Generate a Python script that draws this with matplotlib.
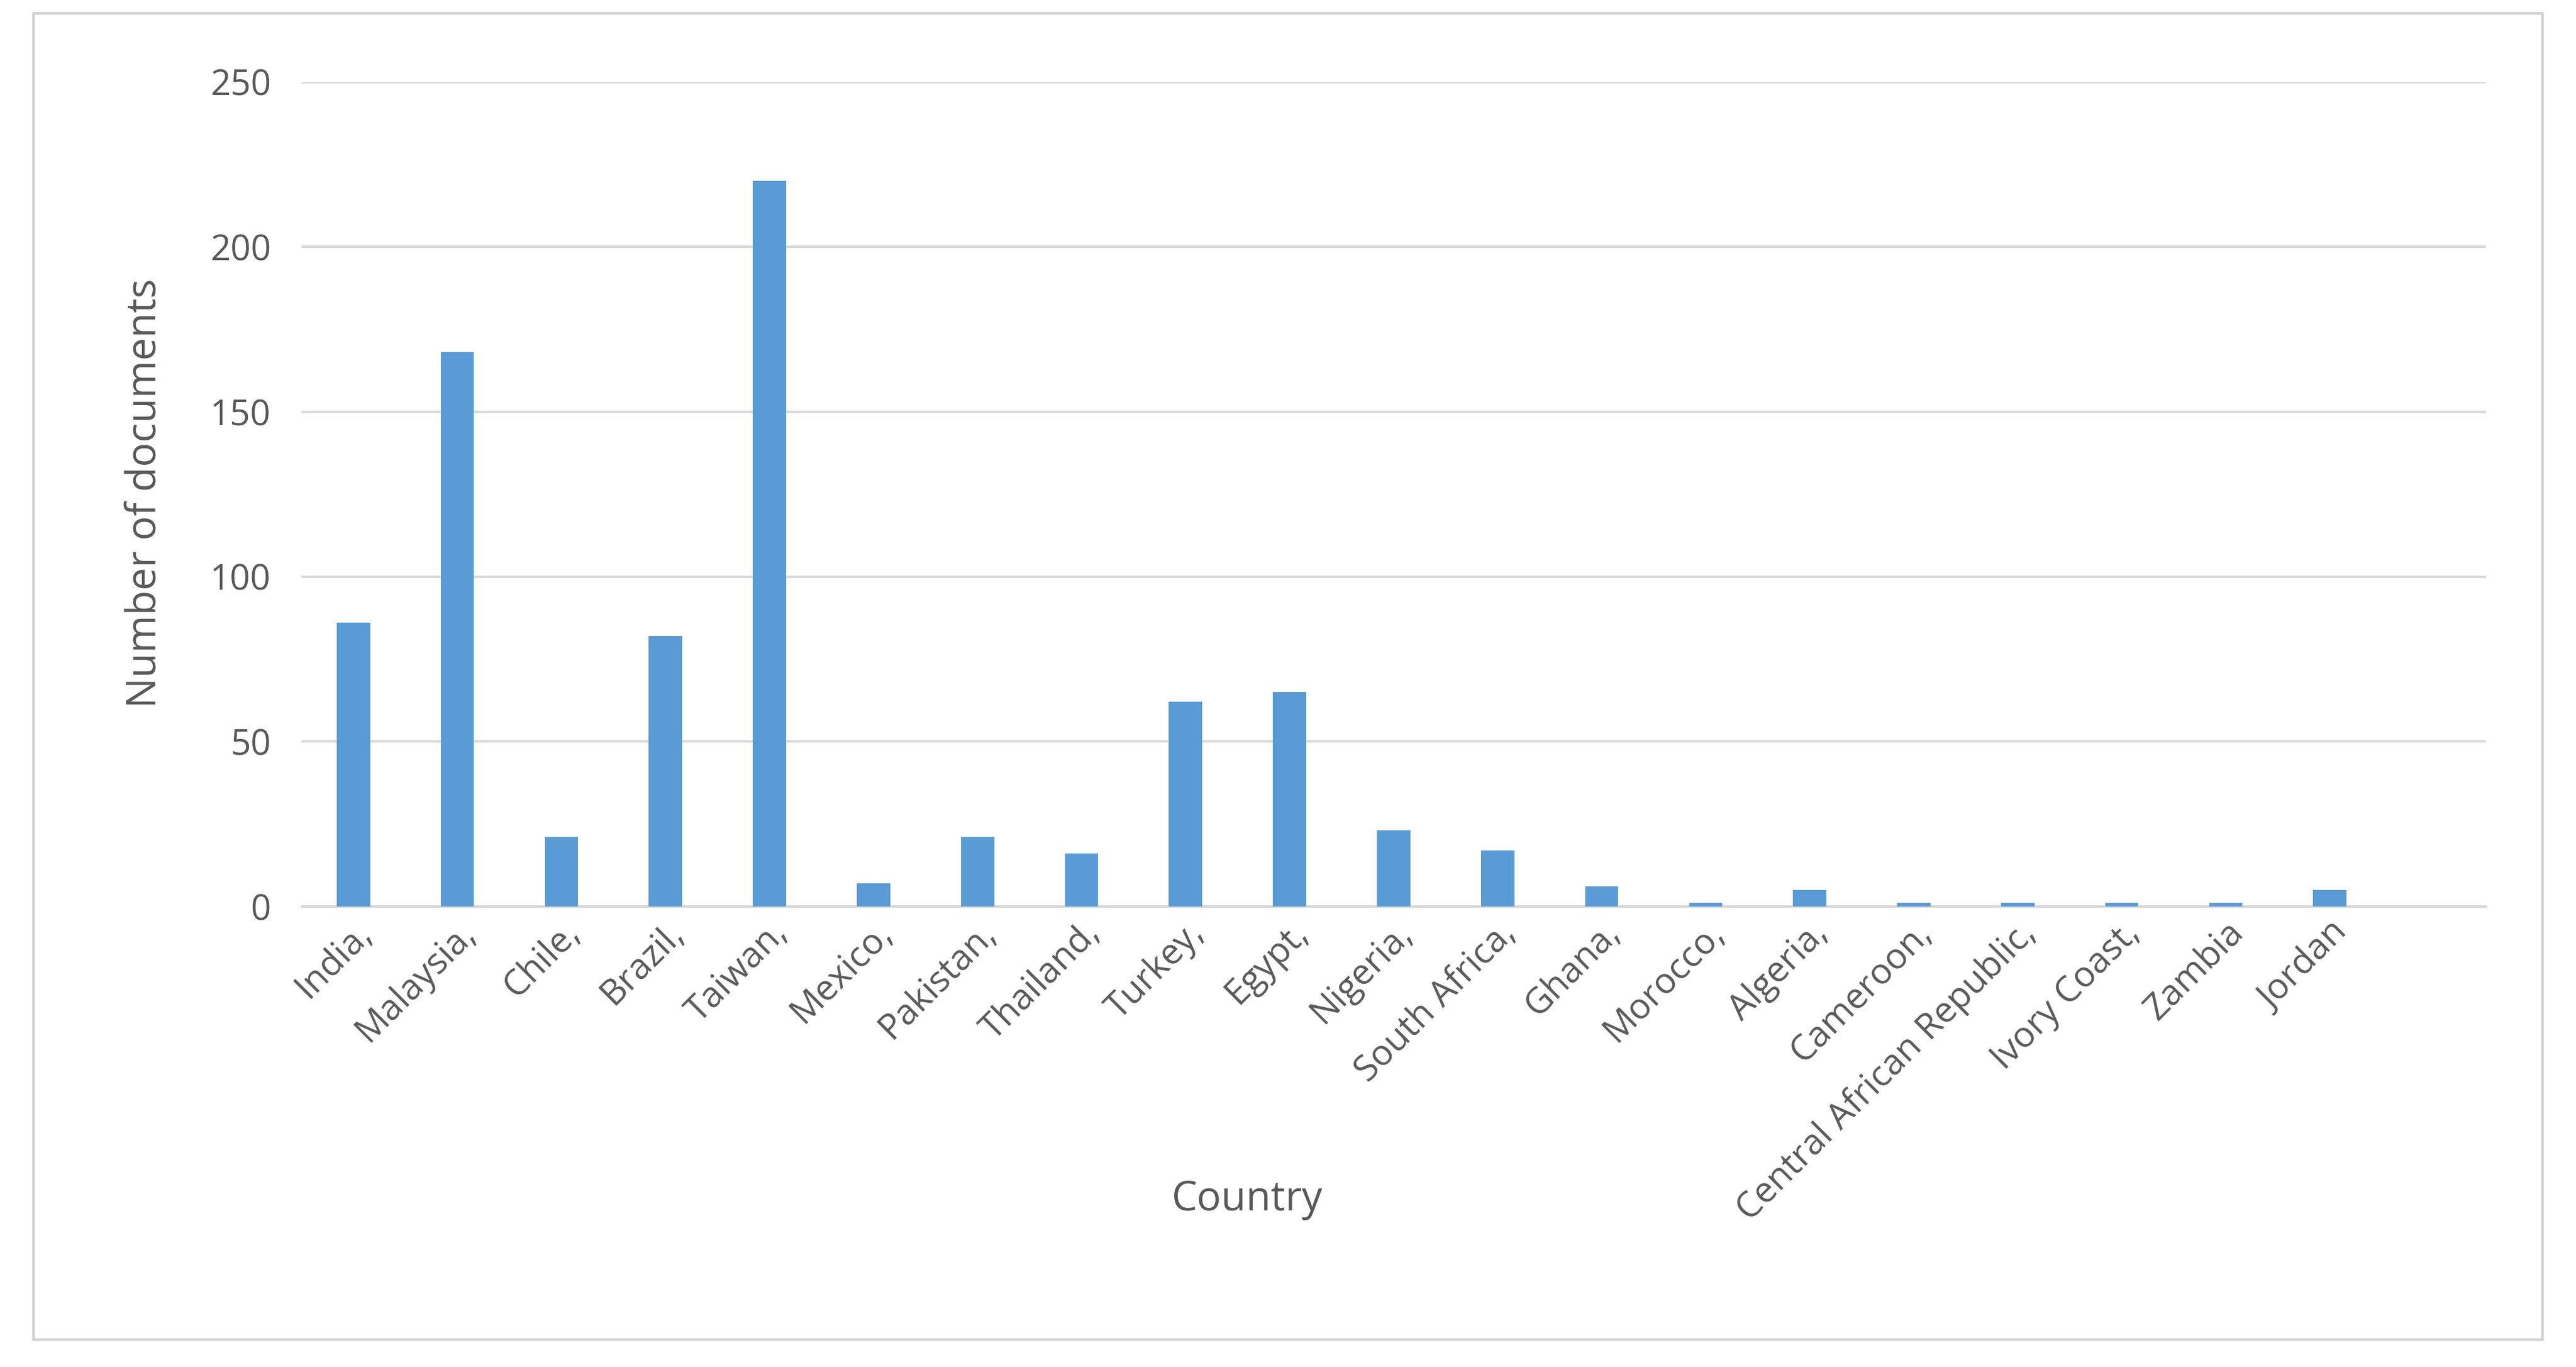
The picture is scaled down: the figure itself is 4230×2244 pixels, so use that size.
import matplotlib
matplotlib.use("Agg")
import matplotlib.pyplot as plt
from matplotlib.patches import Rectangle

countries = ["India,", "Malaysia,", "Chile,", "Brazil,", "Taiwan,", "Mexico,", "Pakistan,",
             "Thailand,", "Turkey,", "Egypt,", "Nigeria,", "South Africa,", "Ghana,", "Morocco,",
             "Algeria,", "Cameroon,", "Central African Republic,", "Ivory Coast,", "Zambia", "Jordan"]
documents = [86, 168, 21, 82, 220, 7, 21, 16, 62, 65, 23, 17, 6, 1, 5, 1, 1, 1, 1, 5]
yticks = [0, 50, 100, 150, 200, 250]

plt.rcParams['font.family'] = ['Open Sans', 'DejaVu Sans']
fig = plt.figure(figsize=(14.1, 7.48), dpi=300)
fig.patches.append(Rectangle((0.013, 0.02), 0.974, 0.97, transform=fig.transFigure,
                             fill=False, edgecolor='#d0d0d0', linewidth=1))
ax = fig.add_axes([0.117, 0.337, 0.848, 0.603])
x = list(range(len(countries)))
ax.bar(x, documents, width=0.32, color='#5b9bd5', zorder=3)
ax.set_xlim(-0.5, 20.5)
ax.set_ylim(0, 250)
ax.set_yticks(yticks)
ax.grid(axis='y', color='#d9d9d9', linewidth=1, zorder=0)
for s in ['top', 'right', 'left']:
    ax.spines[s].set_visible(False)
ax.spines['bottom'].set_color('#d9d9d9')
ax.tick_params(axis='both', length=0, labelsize=14, colors='#595959')
ax.tick_params(axis='y', pad=12)
ax.set_xticks(x)
ax.set_xticklabels(countries, rotation=45, ha='right', rotation_mode='anchor')
fig.text(759/1568, 1 - 730/832, 'Country', fontsize=16, color='#595959', ha='center', va='center')
fig.text(88/1568, 1 - 300/832, 'Number of documents', fontsize=16, color='#595959',
         ha='center', va='center', rotation=90)
fig.savefig('out.png', dpi=300)
